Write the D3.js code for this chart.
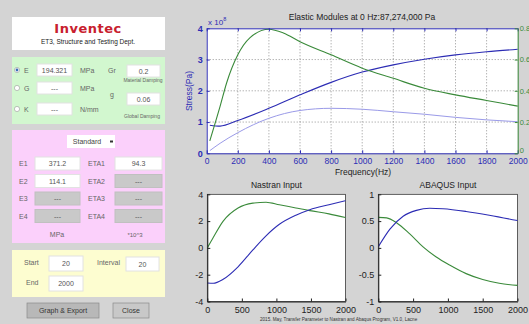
<!DOCTYPE html>
<html><head><meta charset="utf-8">
<script src="https://cdn.jsdelivr.net/npm/d3@7"></script>
<style>
body{margin:0;background:#d4d4d4;overflow:hidden;}
svg{display:block;font-family:"Liberation Sans",Arial,sans-serif;}
</style></head><body>
<svg id="c" width="529" height="324"></svg>
<script>
// 主图数据 (Hz)
const storageFreq = [20, 86, 200, 400, 600, 800, 1000, 1200, 1400, 1600, 1800, 2000];
const storageVal = [0.9, 0.87, 1.05, 1.44, 1.87, 2.27, 2.6, 2.83, 3.01, 3.15, 3.25, 3.33];
const lossModFreq = [20, 86, 200, 400, 600, 800, 1000, 1200, 1400, 1600, 1800, 2000];
const lossModVal = [0.085, 0.32, 0.66, 1.12, 1.37, 1.44, 1.41, 1.33, 1.25, 1.15, 1.07, 1.01];
const lossFactorFreq = [20, 86, 128, 200, 279, 400, 493, 600, 800, 1000, 1200, 1400, 1600, 1800, 2000];
const lossFactorVal = [0.08, 0.30, 0.45, 0.63, 0.74, 0.794, 0.77, 0.714, 0.63, 0.545, 0.48, 0.416, 0.374, 0.338, 0.302];
const mainXTicks = [0, 200, 400, 600, 800, 1000, 1200, 1400, 1600, 1800, 2000];
const mainYTicks = [0, 1, 2, 3, 4];
const mainY2Ticks = [0, 0.2, 0.4, 0.6, 0.8];

// Nastran
const nasFreq = [0, 86, 230, 445, 660, 850, 1043, 1282, 1483, 1760, 2000];
const nasGreen = [0, 0.78, 2.0, 2.98, 3.34, 3.41, 3.22, 2.98, 2.78, 2.54, 2.27];
const nasBlue = [-2.62, -2.64, -2.34, -1.41, -0.15, 0.9, 1.76, 2.44, 2.85, 3.22, 3.52];
const nasYTicks = [-4, -2, 0, 2, 4];
// ABAQUS
const abqBlueFreq = [0, 167, 357, 548, 738, 929, 1262, 1595, 2000];
const abqBlue = [0.02, 0.35, 0.59, 0.70, 0.74, 0.73, 0.68, 0.61, 0.51];
const abqGreenFreq = [0, 119, 262, 452, 643, 833, 1024, 1262, 1500, 1738, 2000];
const abqGreen = [0.57, 0.56, 0.47, 0.26, 0.02, -0.17, -0.32, -0.48, -0.59, -0.66, -0.70];
const abqYTicks = [-1, -0.5, 0, 0.5, 1];
const smallXTicks = [0, 500, 1000, 1500, 2000];

const BLUE = '#2c2cb4', LIGHT = '#9a9ae8', GREEN = '#3a8a3a';
const svg = d3.select('#c');
const zip = (xs, ys) => xs.map((x, i) => [x, ys[i]]);
const plain = d => String(d);

// ---------- 左侧面板 ----------
const panel = svg.append('g').attr('font-size', 7).attr('fill', '#444');
panel.append('rect').attr('x', 12).attr('y', 17).attr('width', 153).attr('height', 33).attr('fill', '#fff');
panel.append('text').attr('x', 88).attr('y', 33).attr('text-anchor', 'middle')
    .attr('font-family', 'DejaVu Sans').attr('font-weight', 'bold').attr('font-size', 13)
    .attr('fill', '#c8202e').attr('letter-spacing', 0.5).text('Inventec');
panel.append('text').attr('x', 88).attr('y', 44).attr('text-anchor', 'middle')
    .attr('font-size', 6.5).attr('fill', '#222').text('ET3, Structure and Testing Dept.');

const boxes = [
    {x: 12, y: 57, w: 153, h: 67, c: '#d2f7cf'},
    {x: 12, y: 130, w: 153, h: 113, c: '#fbd0fb'},
    {x: 12, y: 250, w: 153, h: 47, c: '#fdfdd0'}
];
panel.selectAll('.bg').data(boxes).enter().append('rect')
    .attr('x', d => d.x).attr('y', d => d.y).attr('width', d => d.w).attr('height', d => d.h)
    .attr('fill', d => d.c);

function input(x, y, w, h, t, gray) {
    panel.append('rect').attr('x', x).attr('y', y).attr('width', w).attr('height', h)
        .attr('fill', gray ? '#c9c9c9' : '#fff').attr('stroke', gray ? '#c0c0c0' : '#e2e2e2');
    panel.append('text').attr('x', x + w / 2).attr('y', y + h / 2 + 2.5).attr('text-anchor', 'middle')
        .attr('fill', '#555').text(t);
}
function label(x, y, t, size, anchor) {
    panel.append('text').attr('x', x).attr('y', y).attr('font-size', size || 7)
        .attr('text-anchor', anchor || 'start').attr('fill', '#666').text(t);
}
// radio
[[70, 'E', '194.321', 'MPa', true], [88, 'G', '---', 'MPa', false], [109, 'K', '---', 'N/mm', false]].forEach(r => {
    panel.append('circle').attr('cx', 17).attr('cy', r[0]).attr('r', 2.6)
        .attr('fill', '#fff').attr('stroke', '#999').attr('stroke-width', 0.6);
    if (r[4]) panel.append('circle').attr('cx', 17).attr('cy', r[0]).attr('r', 1.4).attr('fill', '#3a6fb5');
    label(24, r[0] + 2.5, r[1]);
    input(37, r[0] - 6, 35, 12, r[2]);
    label(80, r[0] + 2.5, r[3]);
});
label(108, 73, 'Gr');
input(127, 65, 33, 12, '0.2');
label(143, 82, 'Material Damping', 5, 'middle');
label(110, 97, 'g');
input(127, 93, 33, 12, '0.06');
label(142, 118, 'Global Damping', 5, 'middle');

// 下拉
panel.append('rect').attr('x', 67).attr('y', 135).attr('width', 48).attr('height', 13).attr('fill', '#fff');
panel.append('text').attr('x', 87).attr('y', 144).attr('text-anchor', 'middle').attr('fill', '#444').text('Standard');
panel.append('rect').attr('x', 110).attr('y', 140.5).attr('width', 3).attr('height', 2).attr('fill', '#333');

const eRows = [['E1', '371.2', 'ETA1', '94.3'], ['E2', '114.1', 'ETA2', '---'], ['E3', '---', 'ETA3', '---'], ['E4', '---', 'ETA4', '---']];
eRows.forEach((r, i) => {
    const y = 157 + i * 17.5;
    label(19, y + 9, r[0]);
    input(35, y, 45, 13, r[1], r[1] === '---');
    label(88, y + 9, r[2]);
    input(115, y, 47, 13, r[3], r[3] === '---');
});
label(57, 237, 'MPa', 7, 'middle');
label(135, 237, '*10^3', 6, 'middle');

label(24, 265, 'Start');
input(49, 256, 34, 15, '20');
label(97, 265, 'Interval');
input(126, 257, 33, 14, '20');
label(26, 285, 'End');
input(49, 276, 34, 15, '2000');

[[27, 72, 'Graph & Export', '#b8b8b8'], [113, 36, 'Close', '#c8c8c8']].forEach(b => {
    panel.append('rect').attr('x', b[0]).attr('y', 303).attr('width', b[1]).attr('height', 15)
        .attr('fill', b[3]).attr('stroke', '#8a8a8a').attr('stroke-width', 0.7);
    panel.append('text').attr('x', b[0] + b[1] / 2).attr('y', 313).attr('text-anchor', 'middle')
        .attr('fill', '#333').text(b[2]);
});

// ---------- 主图 ----------
const m = {l: 206.7, r: 517.7, t: 28.3, b: 153.3};
const x = d3.scaleLinear().domain([0, 2000]).range([m.l, m.r]);
const y = d3.scaleLinear().domain([0, 4]).range([m.b, m.t]);
const y2 = d3.scaleLinear().domain([0, 0.8]).range([m.b, m.t]);
const mg = svg.append('g');
mg.append('rect').attr('x', m.l).attr('y', m.t).attr('width', m.r - m.l).attr('height', m.b - m.t).attr('fill', '#fff');
// grid
mg.selectAll('.gx').data(mainXTicks.slice(1, -1)).enter().append('line')
    .attr('x1', d => x(d)).attr('x2', d => x(d)).attr('y1', m.t).attr('y2', m.b)
    .attr('stroke', '#666').attr('stroke-width', 0.7).attr('stroke-dasharray', '1,2');
mg.selectAll('.gy').data(mainYTicks.slice(1, -1)).enter().append('line')
    .attr('y1', d => y(d)).attr('y2', d => y(d)).attr('x1', m.l).attr('x2', m.r)
    .attr('stroke', '#666').attr('stroke-width', 0.7).attr('stroke-dasharray', '1,2');

const line = (sx, sy) => d3.line().x(d => sx(d[0])).y(d => sy(d[1])).curve(d3.curveMonotoneX);
mg.append('path').datum(zip(lossModFreq, lossModVal)).attr('d', line(x, y))
    .attr('fill', 'none').attr('stroke', LIGHT).attr('stroke-width', 1);
mg.append('path').datum(zip(storageFreq, storageVal)).attr('d', line(x, y))
    .attr('fill', 'none').attr('stroke', BLUE).attr('stroke-width', 1.1);
mg.append('path').datum(zip(lossFactorFreq, lossFactorVal)).attr('d', line(x, y2))
    .attr('fill', 'none').attr('stroke', GREEN).attr('stroke-width', 1.1);

function styleAxis(g, color, size) {
    g.selectAll('path').attr('stroke', color);
    g.selectAll('line').attr('stroke', color);
    g.selectAll('text').attr('fill', color).attr('font-size', size || 8.5).attr('font-family', '"Liberation Sans",Arial,sans-serif');
}
const ax = mg.append('g').attr('transform', `translate(0,${m.b})`)
    .call(d3.axisBottom(x).tickValues(mainXTicks).tickSizeInner(-3).tickSizeOuter(0).tickPadding(5).tickFormat(plain));
styleAxis(ax, BLUE);
const axTop = mg.append('g').attr('transform', `translate(0,${m.t})`)
    .call(d3.axisTop(x).tickValues(mainXTicks).tickSizeInner(-3).tickSizeOuter(0).tickFormat(''));
styleAxis(axTop, BLUE);
const ay = mg.append('g').attr('transform', `translate(${m.l},0)`)
    .call(d3.axisLeft(y).tickValues(mainYTicks).tickSizeInner(-3).tickSizeOuter(0).tickPadding(4).tickFormat(plain));
styleAxis(ay, BLUE, 9);
ay.selectAll('text').attr('font-weight', 'bold');
const ay2 = mg.append('g').attr('transform', `translate(${m.r},0)`)
    .call(d3.axisRight(y2).tickValues(mainY2Ticks).tickSizeInner(-3).tickSizeOuter(0).tickPadding(2).tickFormat(plain));
styleAxis(ay2, GREEN, 7.5);
ay2.selectAll('text').filter(d => d === 0).attr('dy', '-0.1em');

mg.append('text').attr('x', 362).attr('y', 20).attr('text-anchor', 'middle').attr('font-size', 8.5)
    .attr('fill', '#222').text('Elastic Modules at 0 Hz:87,274,000 Pa');
const ex = mg.append('text').attr('x', 208).attr('y', 25).attr('font-size', 8).attr('fill', BLUE);
ex.append('tspan').text('x 10');
ex.append('tspan').attr('dy', -4).attr('font-size', 5.5).text('8');
mg.append('text').attr('transform', `translate(192,91) rotate(-90)`).attr('text-anchor', 'middle')
    .attr('font-size', 8.5).attr('fill', BLUE).text('Stress(Pa)');
mg.append('text').attr('x', 363).attr('y', 175).attr('text-anchor', 'middle').attr('font-size', 8.5)
    .attr('fill', '#222').text('Frequency(Hz)');

// ---------- 下方两图 ----------
function small(left, right, yDom, yTicks, title, series) {
    const top = 194.3, bottom = 301.5;
    const sx = d3.scaleLinear().domain([0, 2000]).range([left, right]);
    const sy = d3.scaleLinear().domain(yDom).range([bottom, top]);
    const g = svg.append('g');
    g.append('rect').attr('x', left).attr('y', top).attr('width', right - left).attr('height', bottom - top)
        .attr('fill', '#fff').attr('stroke', '#222').attr('stroke-width', 0.7);
    series.forEach(s => {
        g.append('path').datum(s.data).attr('d', line(sx, sy))
            .attr('fill', 'none').attr('stroke', s.color).attr('stroke-width', 1.1);
    });
    const a1 = g.append('g').attr('transform', `translate(0,${bottom})`)
        .call(d3.axisBottom(sx).tickValues(smallXTicks).tickSizeInner(-3).tickSizeOuter(0).tickPadding(5).tickFormat(plain));
    const a2 = g.append('g').attr('transform', `translate(${left},0)`)
        .call(d3.axisLeft(sy).tickValues(yTicks).tickSizeInner(-3).tickSizeOuter(0).tickPadding(4).tickFormat(plain));
    [a1, a2].forEach(a => styleAxis(a, '#222', 9));
    g.append('text').attr('x', (left + right) / 2).attr('y', 188).attr('text-anchor', 'middle')
        .attr('font-size', 8.5).attr('fill', '#222').text(title);
}
small(207.3, 345.5, [-4, 4], nasYTicks, 'Nastran Input', [
    {data: zip(nasFreq, nasGreen), color: GREEN},
    {data: zip(nasFreq, nasBlue), color: BLUE}
]);
small(378.3, 517.5, [-1, 1], abqYTicks, 'ABAQUS Input', [
    {data: zip(abqGreenFreq, abqGreen), color: GREEN},
    {data: zip(abqBlueFreq, abqBlue), color: BLUE}
]);

svg.append('text').attr('x', 260).attr('y', 321).attr('font-size', 4.6).attr('fill', '#333')
    .text('2015. May, Transfer Parameter to Nastran and Abaqus  Program, V1.0, Lacne');
</script>
</body></html>
